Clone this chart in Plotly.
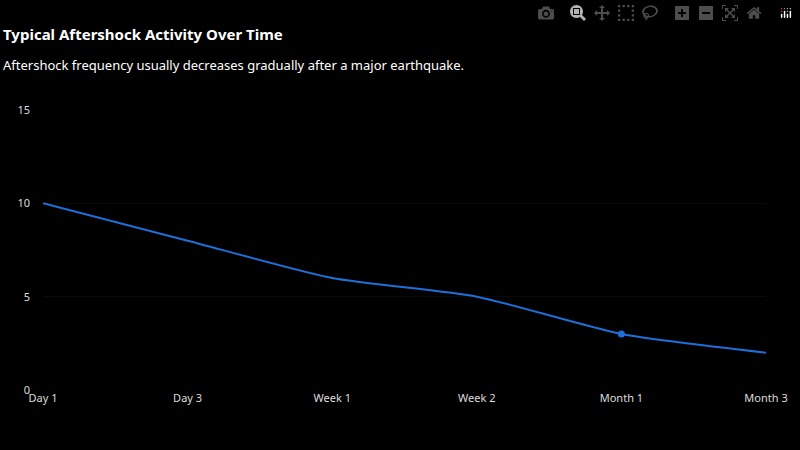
import plotly.graph_objects as go

categories = ["Day 1", "Day 3", "Week 1", "Week 2", "Month 1", "Month 3"]
values = [10, 8, 6, 5, 3, 2]
highlight_index = 4

fig = go.Figure()
fig.add_trace(go.Scatter(x=categories, y=values, mode="lines",
                         line=dict(color="#1f6fd8", width=2, shape="spline", smoothing=0.6),
                         hoverinfo="skip"))
fig.add_trace(go.Scatter(x=[categories[highlight_index]], y=[values[highlight_index]], mode="markers",
                         marker=dict(color="#1f6fd8", size=7), hoverinfo="skip"))

fig.update_layout(
    width=800, height=450, showlegend=False,
    paper_bgcolor="black", plot_bgcolor="black",
    font=dict(family="Noto Sans", color="#e8e8e8", size=12),
    margin=dict(l=43, r=17, t=110, b=60),
)
fig.add_annotation(text="<b>Typical Aftershock Activity Over Time</b>", xref="paper", yref="paper",
                   x=-43/740, y=1 + (110-34)/280, xanchor="left", yanchor="middle",
                   showarrow=False, font=dict(size=15, color="white"))
fig.add_annotation(text="Aftershock frequency usually decreases gradually after a major earthquake.",
                   xref="paper", yref="paper", x=-43/740, y=1 + (110-65)/280, xanchor="left",
                   yanchor="middle", showarrow=False, font=dict(size=13, color="white"))
fig.update_xaxes(range=[0, 5], showgrid=False, zeroline=False, showline=False,
                 tickfont=dict(size=11, color="#dddddd"))
fig.update_yaxes(range=[0, 15], tickvals=[0, 5, 10, 15], showgrid=True, gridcolor="#0a0a0a",
                 zeroline=False, tickfont=dict(size=11, color="#dddddd"), ticklabelstandoff=12)
fig.write_html("out.html",
               post_script="document.body.style.margin='0';document.body.style.background='black';")
